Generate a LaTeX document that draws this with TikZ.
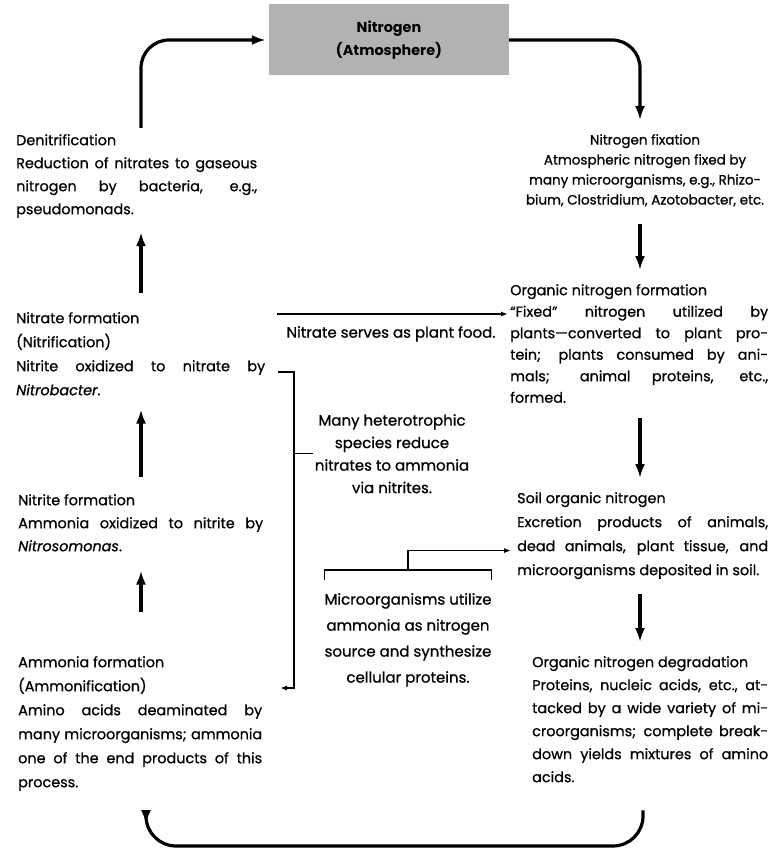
\documentclass[tikz,border=0pt]{standalone}
\usepackage{fontspec}
\setmainfont{Poppins}[UprightFeatures={FakeBold=0.8},ItalicFeatures={FakeBold=0.8}]
\usetikzlibrary{arrows.meta,calc}
\begin{document}
\begin{tikzpicture}[x=1pt,y=-1pt,
  txt/.style={inner sep=0pt, align=justify, anchor=north west, font=\fontsize{14.4}{23}\selectfont},
  ctxt/.style={inner sep=0pt, align=center, anchor=north, font=\fontsize{15}{22}\selectfont},
  arr/.style={line width=3.2pt, -{Latex[length=14pt,width=10pt]}},
  thinarr/.style={line width=1.4pt, -{Latex[length=7pt,width=5pt]}},
  brk/.style={line width=1.4pt}]
\useasboundingbox (0,0) rectangle (775,856);

% atmosphere box
\node[fill=black!30, minimum width=240pt, minimum height=71pt, inner sep=0pt,
      align=center, font=\fontsize{14.4}{23}\selectfont\bfseries] (atm) at (389,40) {Nitrogen\\(Atmosphere)};

% left column
\node[txt, text width=241pt] (denit) at (16,134) {Denitrification\\Reduction of nitrates to gaseous\linebreak nitrogen by bacteria, e.g.,\linebreak pseudomonads.};
\node[txt, text width=249pt, font=\fontsize{14.4}{24}\selectfont] (nitrate) at (16,312) {Nitrate formation\\(Nitrification)\\Nitrite oxidized to nitrate by\linebreak \textit{Nitrobacter}.};
\node[txt, text width=245pt] (nitrite) at (18,494) {Nitrite formation\\Ammonia oxidized to nitrite by\linebreak \textit{Nitrosomonas}.};
\node[txt, text width=244pt, font=\fontsize{14.4}{24}\selectfont] (ammonia) at (18,656) {Ammonia formation\\(Ammonification)\\Amino acids deaminated by\linebreak many microorganisms; ammonia\linebreak one of the end products of this\linebreak process.};

% right column
\node[ctxt, font=\fontsize{13.5}{20}\selectfont] (nfix) at (645,134) {Nitrogen fixation\\Atmospheric nitrogen fixed by\\many microorganisms, e.g., Rhizo-\\bium, Clostridium, Azotobacter, etc.};
\node[txt, text width=258pt, font=\fontsize{14.4}{21.5}\selectfont] (orgf) at (510,284) {Organic nitrogen formation\\“Fixed” nitrogen utilized by\linebreak plants—converted to plant pro-\linebreak tein; plants consumed by ani-\linebreak mals; animal proteins, etc.,\linebreak formed.};
\node[txt, text width=251pt, font=\fontsize{14.4}{24}\selectfont] (soil) at (517,492) {Soil organic nitrogen\\Excretion products of animals,\linebreak dead animals, plant tissue, and\linebreak microorganisms deposited in soil.};
\node[txt, text width=236pt] (orgd) at (532,656) {Organic nitrogen degradation\\Proteins, nucleic acids, etc., at-\linebreak tacked by a wide variety of mi-\linebreak croorganisms; complete break-\linebreak down yields mixtures of amino\linebreak acids.};

% middle
\node[ctxt] (food) at (391,326) {Nitrate serves as plant food.};
\node[ctxt, font=\fontsize{15}{22.5}\selectfont] (hetero) at (392,414) {Many heterotrophic\\species reduce\\nitrates to ammonia\\via nitrites.};
\node[ctxt, font=\fontsize{15}{26}\selectfont] (micro) at (408,593) {Microorganisms utilize\\ammonia as nitrogen\\source and synthesize\\cellular proteins.};

\coordinate (lx) at (141,0);
\coordinate (rx) at (640,0);

% cycle arrows
\draw[arr, rounded corners=28pt] ([yshift=6pt]denit.north -| lx) |- ([xshift=-3pt]atm.west);
\draw[arr, rounded corners=28pt] (atm.east) -| ([yshift=14pt]nfix.north -| rx);
\draw[arr] ([yshift=-17pt]nfix.south -| rx) -- ([yshift=14pt]orgf.north -| rx);
\draw[arr] ([yshift=-15pt]orgf.south -| rx) -- ([yshift=14pt]soil.north -| rx);
\draw[arr] ([yshift=-15pt]soil.south -| rx) -- ([yshift=14pt]orgd.north -| rx);
\coordinate (br) at (643,846);
\coordinate (bl) at (146,846);
\draw[arr, rounded corners=30pt] ([yshift=-28pt]orgd.south -| br) -- (br) -- (bl) -- ([yshift=-33pt]ammonia.south -| bl);
\draw[arr] ([yshift=44pt]ammonia.north -| lx) -- ([yshift=-19pt]nitrite.south -| lx);
\draw[arr] ([yshift=17pt]nitrite.north -| lx) -- ([yshift=-14pt]nitrate.south -| lx);
\draw[arr] ([yshift=19pt]nitrate.north -| lx) -- ([yshift=-14pt]denit.south -| lx);

% nitrate to plants
\coordinate (fs) at (277,314);
\draw[thinarr, shorten >=2pt] (fs) -- (fs -| orgf.west);

% heterotrophic bracket
\coordinate (bt) at (278,372);
\coordinate (bb) at (294,688);
\draw[thinarr] (bt) -| (bb) -- ++(-14,0);
\draw[brk] (hetero.west -| bb) -- ([xshift=-2pt]hetero.west);

% microorganisms bracket
\draw[brk] ([yshift=13pt]micro.north west) -- ([yshift=23pt]micro.north west) -- ([yshift=23pt]micro.north east) -- ([yshift=13pt]micro.north east);
\draw[thinarr] ([yshift=23pt]micro.north) |- ([yshift=-15pt,xshift=-6pt]soil.west);
\end{tikzpicture}
\end{document}
